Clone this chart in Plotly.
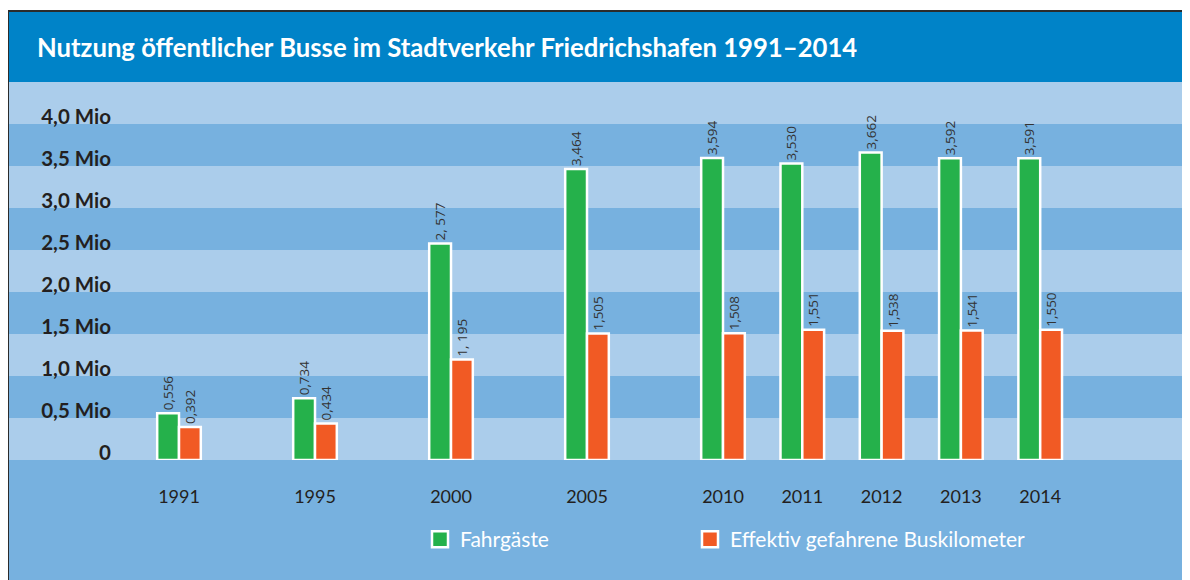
import plotly.graph_objects as go

# ---------------- data ----------------
years = ["1991", "1995", "2000", "2005", "2010", "2011", "2012", "2013", "2014"]
fahrgaeste = [0.556, 0.734, 2.577, 3.464, 3.594, 3.530, 3.662, 3.592, 3.591]
buskilometer = [0.392, 0.434, 1.195, 1.505, 1.508, 1.551, 1.538, 1.541, 1.550]
fahrgaeste_labels = ["0,556", "0,734", "2, 577", "3,464", "3,594", "3,530", "3,662", "3,592", "3,591"]
buskilometer_labels = ["0,392", "0,434", "1, 195", "1,505", "1,508", "1,551", "1,538", "1,541", "1,550"]
y_tickvals = [0, 0.5, 1.0, 1.5, 2.0, 2.5, 3.0, 3.5, 4.0]
y_ticktext = ["0", "0,5 Mio", "1,0 Mio", "1,5 Mio", "2,0 Mio", "2,5 Mio", "3,0 Mio", "3,5 Mio", "4,0 Mio"]
series_names = ["Fahrgäste", "Effektiv gefahrene Buskilometer"]
title_text = "Nutzung öffentlicher Busse im Stadtverkehr Friedrichshafen 1991–2014"

# ---------------- style ----------------
OFF = 8                                  # page offset of the figure (body margin)
W, H = 1182, 572
L, R, T, B = 9, 1187, 82, 460            # plot area in page pixels
C_HEADER = "#0083c8"
C_LIGHT = "#abcdeb"
C_DARK = "#77b1df"
C_GREEN = "#25b14b"
C_ORANGE = "#f15a24"
C_TEXT = "#231f20"
C_BORDER = "#2b2b2b"
FONT = "Lato"


def px(x):
    return (x - L) / (R - L)


def py(y):
    return (B - y) / (B - T)


# slot positions: 1-year steps are narrower than 5-year steps
pos = [0.0]
for a, b in zip(years[:-1], years[1:]):
    pos.append(pos[-1] + (1.0 if int(b) - int(a) == 1 else 1.715))

unit_px = 79.3
first_px = 179
x_range = [(L - first_px) / unit_px, (R - first_px) / unit_px]
bar_w = 0.275

fig = go.Figure()

label_font = dict(family="Open Sans", size=13.5, color="#333333")
fig.add_trace(go.Bar(
    x=pos, y=fahrgaeste, width=bar_w, offset=-bar_w,
    name=series_names[0], showlegend=False,
    marker=dict(color=C_GREEN, line=dict(color="white", width=2.5)),
    text=fahrgaeste_labels, textposition="outside", textangle=-90,
    textfont=label_font, constraintext="none",
    cliponaxis=False, hoverinfo="skip",
))
fig.add_trace(go.Bar(
    x=pos, y=buskilometer, width=bar_w, offset=0,
    name=series_names[1], showlegend=False,
    marker=dict(color=C_ORANGE, line=dict(color="white", width=2.5)),
    text=buskilometer_labels, textposition="outside", textangle=-90,
    textfont=label_font, constraintext="none",
    cliponaxis=False, hoverinfo="skip",
))

# legend entries (larger square icons), one legend per series
for name, col, lg in zip(series_names, [C_GREEN, C_ORANGE], ["legend", "legend2"]):
    fig.add_trace(go.Scatter(
        x=[None], y=[None], mode="markers", name=name, legend=lg,
        marker=dict(symbol="square", size=18, color=col, line=dict(color="white", width=2.5)),
    ))

shapes = []
# header band
shapes.append(dict(type="rect", xref="paper", yref="paper", x0=px(8), x1=px(1188),
                   y0=py(82), y1=py(11), fillcolor=C_HEADER, line=dict(width=0), layer="below"))
# area below zero
shapes.append(dict(type="rect", xref="paper", yref="paper", x0=0, x1=1,
                   y0=py(590), y1=0, fillcolor=C_DARK, line=dict(width=0), layer="below"))
# alternating light stripes
for i in range(0, 10, 2):
    y0 = i * 0.5
    shapes.append(dict(type="rect", xref="paper", yref="y", x0=0, x1=1,
                       y0=y0, y1=y0 + 0.5, fillcolor=C_LIGHT, line=dict(width=0), layer="below"))
# frame lines
shapes.append(dict(type="line", xref="paper", yref="paper", x0=px(8), x1=px(8),
                   y0=py(10), y1=py(590), line=dict(color=C_BORDER, width=2)))
shapes.append(dict(type="line", xref="paper", yref="paper", x0=px(7), x1=px(1189),
                   y0=py(11), y1=py(11), line=dict(color=C_BORDER, width=2)))
shapes.append(dict(type="line", xref="paper", yref="paper", x0=px(1188), x1=px(1188),
                   y0=py(10), y1=py(590), line=dict(color=C_BORDER, width=2)))

legend_common = dict(orientation="h", xanchor="left", y=py(519), yanchor="top",
                     bgcolor="rgba(0,0,0,0)",
                     font=dict(family=FONT, size=21, color="white"), itemsizing="trace")

fig.update_layout(
    width=W, height=H,
    margin=dict(l=L - OFF, r=W - (R - OFF), t=T - OFF, b=H - (B - OFF), pad=0),
    paper_bgcolor="white",
    plot_bgcolor=C_DARK,
    barmode="overlay",
    shapes=shapes,
    title=dict(text="<b>" + title_text + "</b>", x=(37 - OFF) / W, xref="container", xanchor="left",
               y=1 - (48 - OFF) / H, yref="container", yanchor="middle",
               font=dict(family=FONT, size=25.7, color="white")),
    xaxis=dict(range=x_range, tickvals=pos, ticktext=years, showgrid=False, zeroline=False,
               showline=False, ticks="", ticklabelstandoff=24, fixedrange=True,
               tickfont=dict(family=FONT, size=18, color=C_TEXT)),
    yaxis=dict(range=[0, 4.5], tickvals=y_tickvals, ticktext=y_ticktext, showgrid=False,
               zeroline=False, showline=False, ticks="", anchor="free", position=px(111),
               ticklabelstandoff=0, ticklabelshift=-7, fixedrange=True,
               tickfont=dict(family=FONT, size=20.5, color=C_TEXT, weight="bold")),
    legend=dict(x=px(420), **legend_common),
    legend2=dict(x=px(690), **legend_common),
    font=dict(family=FONT),
)

fig.write_html("out.html")
